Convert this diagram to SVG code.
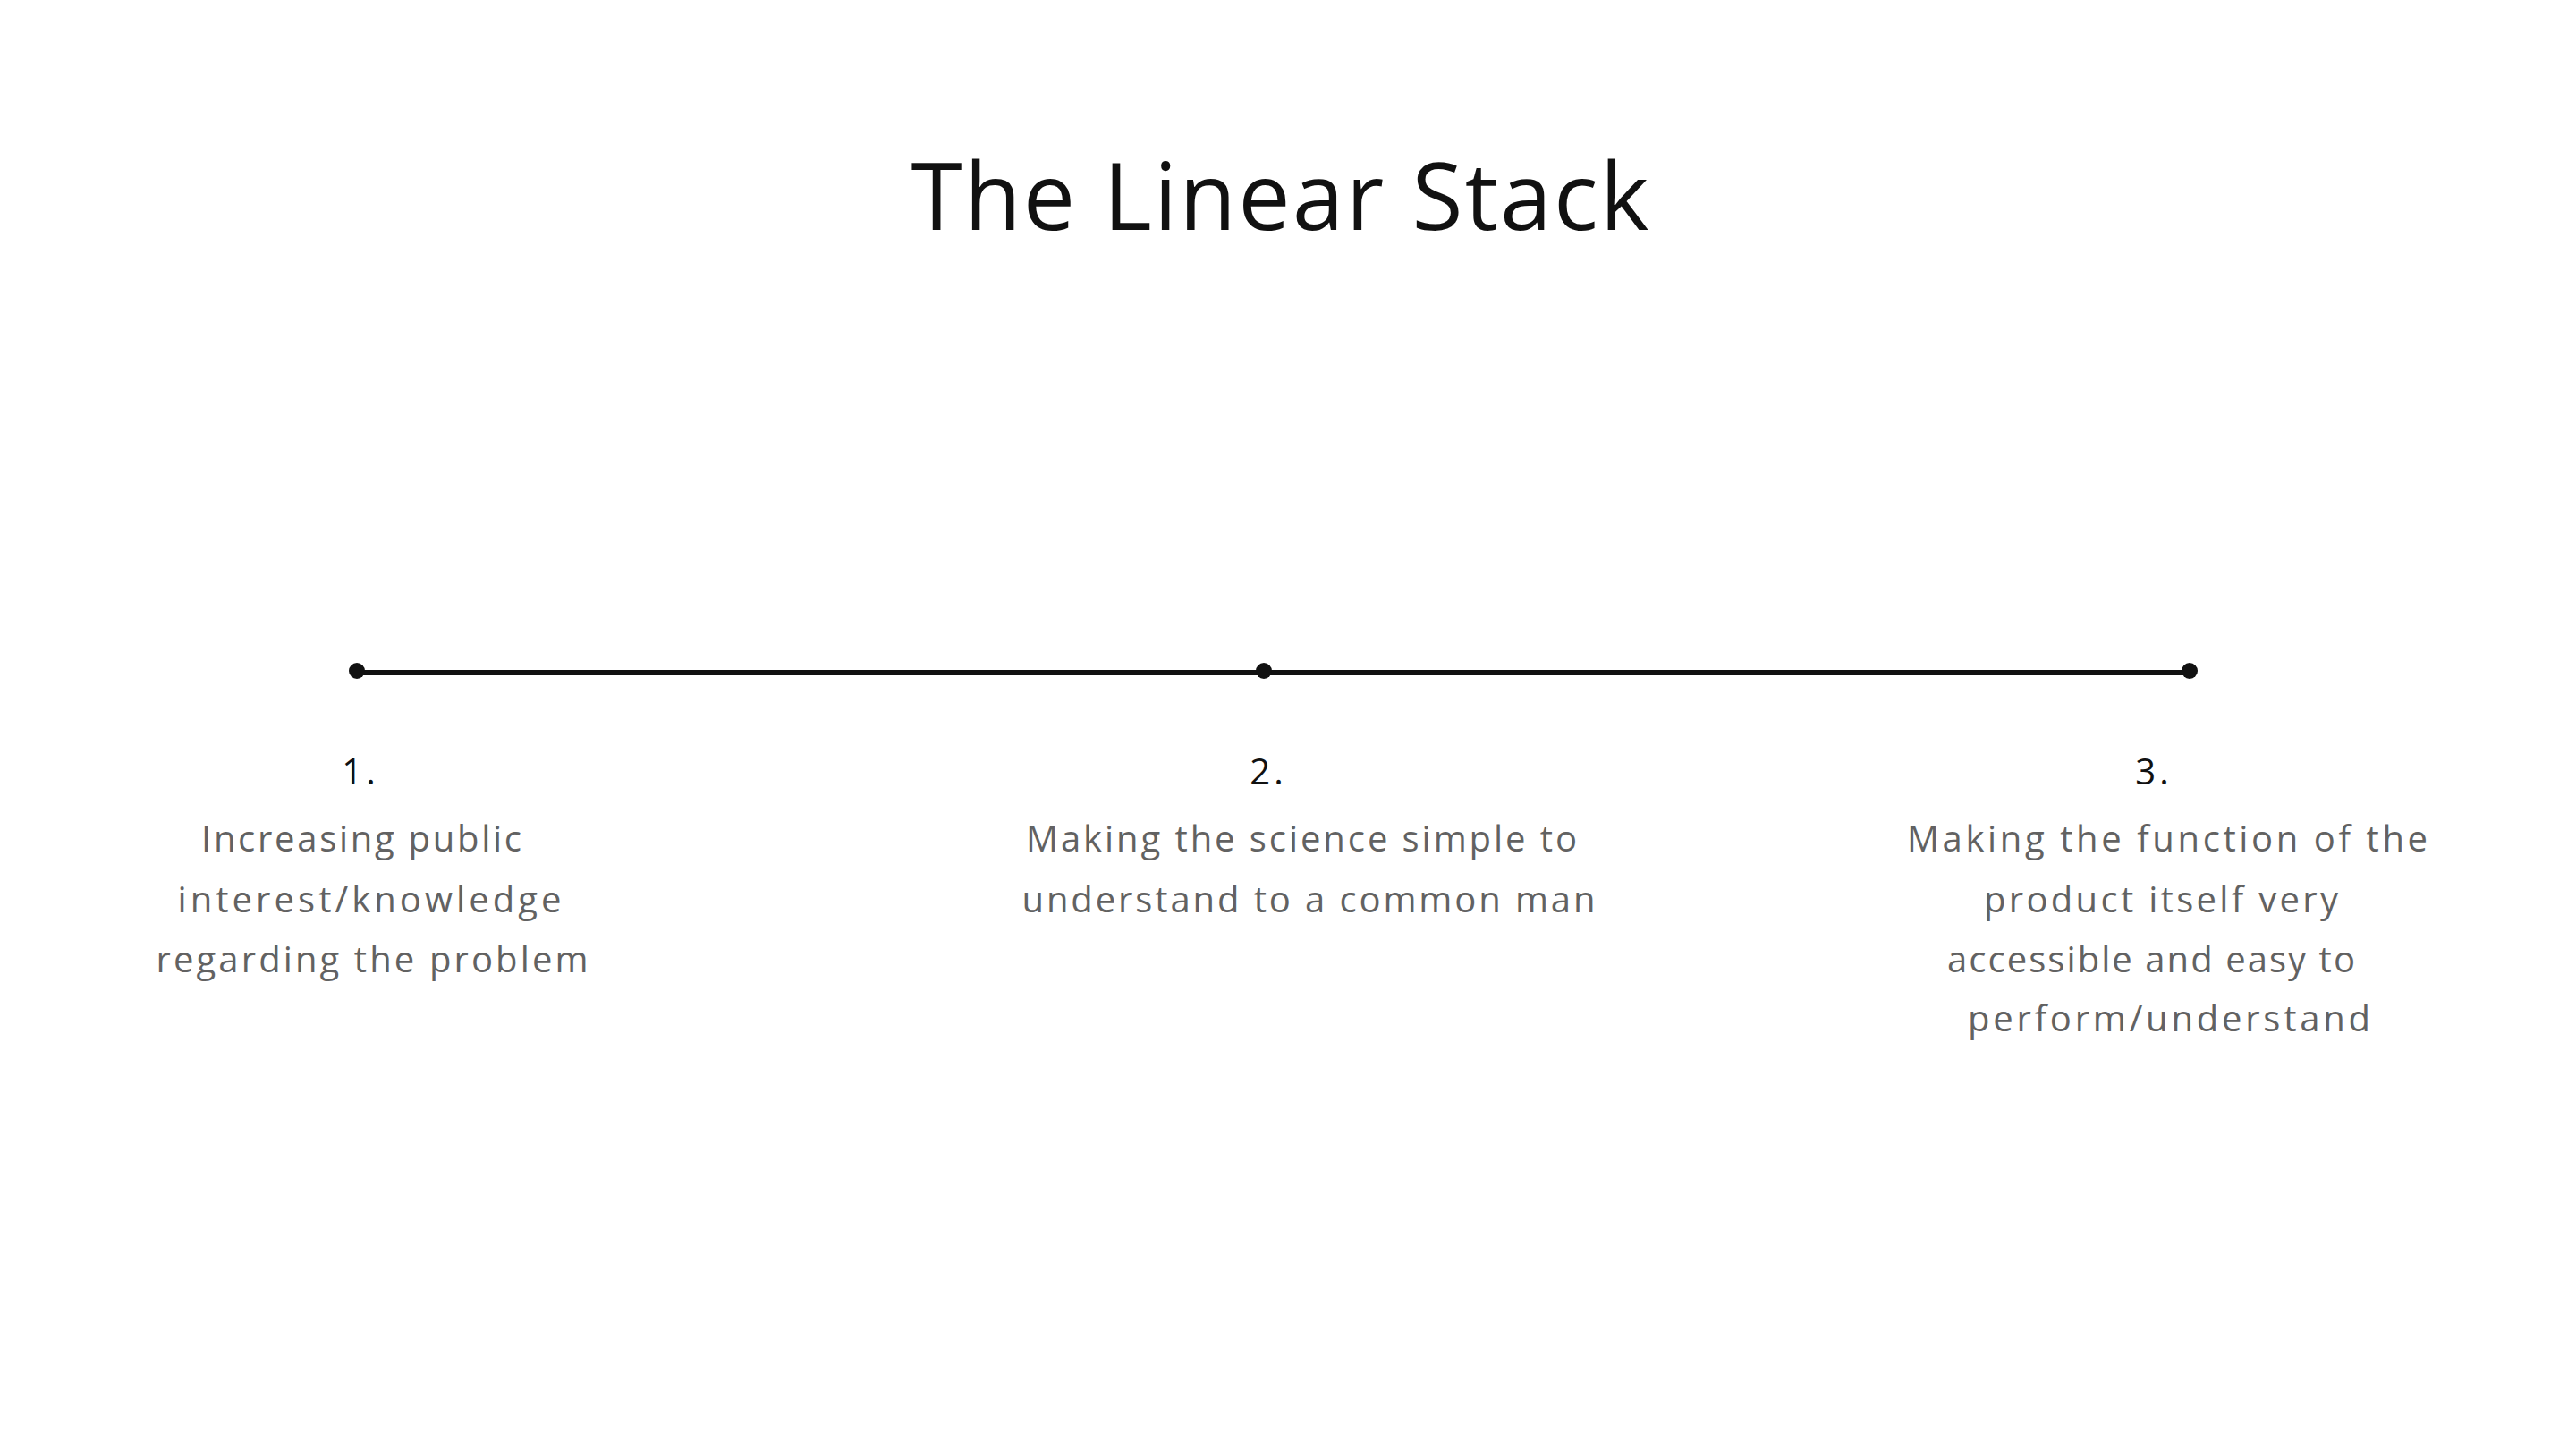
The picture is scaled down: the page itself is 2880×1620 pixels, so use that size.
<svg xmlns="http://www.w3.org/2000/svg" width="2880" height="1620" viewBox="0 0 2880 1620">
  <style>
    .title { font-family: "Open Sans", "Liberation Sans", sans-serif; font-size: 104px; fill: #111111; text-anchor: middle; }
    .num { font-family: "Open Sans", "Liberation Sans", sans-serif; font-size: 40px; fill: #111111; text-anchor: middle; letter-spacing: 4px; }
    .desc { font-family: "Open Sans", "Liberation Sans", sans-serif; font-size: 40px; fill: #626262; text-anchor: middle; }
    .dot { fill: #111111; }
    .line { stroke: #111111; stroke-width: 6; fill: none; }
  </style>
  <rect width="2880" height="1620" fill="#ffffff"/>
  <g id="title">
    <text class="title" x="1431" y="257" textLength="825" lengthAdjust="spacing">The Linear Stack</text>
  </g>
  <g id="connectors">
    <line class="line" x1="399" y1="752" x2="2448" y2="752"/>
  </g>
  <g id="node-1">
    <circle class="dot" cx="399" cy="750" r="9"/>
    <text class="num" x="403" y="877">1.</text>
    <text class="desc" x="404" y="952" textLength="358" lengthAdjust="spacing">Increasing public</text>
    <text class="desc" x="413" y="1020" textLength="429" lengthAdjust="spacing">interest/knowledge</text>
    <text class="desc" x="416" y="1087" textLength="483" lengthAdjust="spacing">regarding the problem</text>
  </g>
  <g id="node-2">
    <circle class="dot" cx="1413" cy="750" r="9"/>
    <text class="num" x="1418" y="877">2.</text>
    <text class="desc" x="1455" y="952" textLength="616" lengthAdjust="spacing">Making the science simple to</text>
    <text class="desc" x="1463" y="1020" textLength="641" lengthAdjust="spacing">understand to a common man</text>
  </g>
  <g id="node-3">
    <circle class="dot" cx="2448" cy="750" r="9"/>
    <text class="num" x="2408" y="877">3.</text>
    <text class="desc" x="2423" y="952" textLength="582" lengthAdjust="spacing">Making the function of the</text>
    <text class="desc" x="2416" y="1020" textLength="396" lengthAdjust="spacing">product itself very</text>
    <text class="desc" x="2405" y="1087" textLength="456" lengthAdjust="spacing">accessible and easy to</text>
    <text class="desc" x="2425" y="1153" textLength="450" lengthAdjust="spacing">perform/understand</text>
  </g>
</svg>
